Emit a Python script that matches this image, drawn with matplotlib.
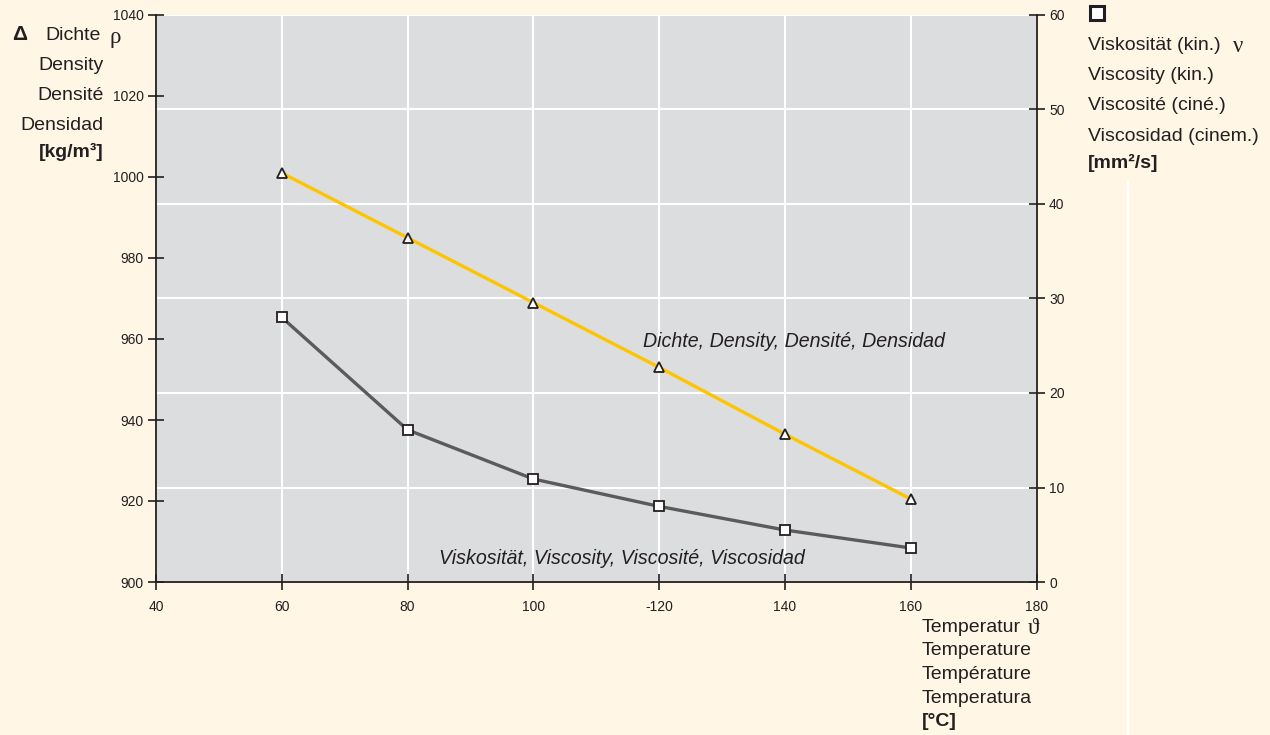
import numpy as np
import matplotlib
matplotlib.use("Agg")
import matplotlib.pyplot as plt
from matplotlib.lines import Line2D

# Werte
temperatur = [60, 80, 100, 120, 140, 160]
dichte = [1001, 985, 969, 953, 936.5, 920.5]
viskositaet = [28.0, 16.1, 10.9, 8.0, 5.5, 3.6]

x_ticks = [40, 60, 80, 100, 120, 140, 160, 180]
x_ticklabels = ["40", "60", "80", "100", "-120", "140", "160", "180"]
dichte_ticks = [900, 920, 940, 960, 980, 1000, 1020, 1040]
visk_ticks = [0, 10, 20, 30, 40, 50, 60]

links_texte = ["Density", "Densité", "Densidad"]
rechts_texte = ["Viskosität (kin.)", "Viscosity (kin.)", "Viscosité (ciné.)", "Viscosidad (cinem.)"]
unten_texte = ["Temperatur", "Temperature", "Température", "Temperatura"]

BG = "#FFF6E6"
AX_BG = "#DCDDDF"
TXT = "#231F20"
GELB = "#FFC400"
GRAU = "#5B5B5B"

plt.rcParams["font.family"] = ["Liberation Sans", "DejaVu Sans"]
plt.rcParams["text.color"] = TXT
SERIF = ["Liberation Serif", "DejaVu Serif"]

W, H = 1270, 735
fig = plt.figure(figsize=(W / 100, H / 100), dpi=100, facecolor=BG)


def px(x, y):
    return x / W, 1 - y / H


ax = fig.add_axes([156 / W, 1 - 582 / H, (1036.5 - 156) / W, (582 - 15) / H])
ax2 = ax.twinx()

# Hintergrund und Gitter auf ax2, Dichte-Kurve auf ax darüber
ax.set_zorder(2)
ax.patch.set_visible(False)
ax2.set_zorder(1)
ax2.patch.set_visible(True)
ax2.set_facecolor(AX_BG)

ax.set_xlim(40, 180)
ax.set_ylim(900, 1040)
ax2.set_ylim(0, 60)

ax.set_xticks(x_ticks)
ax.set_xticklabels(x_ticklabels)
ax.set_yticks(dichte_ticks)
ax2.set_yticks(visk_ticks)

for a in (ax, ax2):
    for s in a.spines.values():
        s.set_visible(False)
    a.tick_params(direction="inout", length=12, width=1.2, color=TXT,
                  labelsize=10, labelcolor=TXT, pad=3)
ax.spines["left"].set_visible(True)
ax.spines["bottom"].set_visible(True)
ax2.spines["right"].set_visible(True)
for s in (ax.spines["left"], ax.spines["bottom"], ax2.spines["right"]):
    s.set_color(TXT)
    s.set_linewidth(1.3)
ax.tick_params(axis="x", pad=7)

# Gitter (weiß)
ax2.xaxis.set_visible(True)
ax2.set_xticks(x_ticks)
ax2.tick_params(axis="x", length=0, labelbottom=False)
ax2.grid(True, color="white", linewidth=1.5)
ax2.set_axisbelow(True)

ax.plot(temperatur, dichte, color=GELB, linewidth=2.4, marker="^", markersize=7,
        markerfacecolor="white", markeredgecolor=TXT, markeredgewidth=1.3, zorder=3)
ax2.plot(temperatur, viskositaet, color=GRAU, linewidth=2.4, marker="s", markersize=7.5,
         markerfacecolor="white", markeredgecolor=TXT, markeredgewidth=1.3, zorder=3)

ax.text(117.4, 959.3, "Dichte, Density, Densité, Densidad", style="italic",
        fontsize=14.1, ha="left", va="center", color=TXT)
ax.text(85.0, 905.9, "Viskosität, Viscosity, Viscosité, Viscosidad", style="italic",
        fontsize=14.1, ha="left", va="center", color=TXT)

FS = 14
GR = 16.5
# linke Beschriftung
fig.text(*px(20, 35), "Δ", fontsize=15, fontweight="bold", ha="center", va="center")
fig.text(*px(101, 35), "Dichte", fontsize=FS, ha="right", va="center")
fig.text(*px(109, 38), "ρ", fontsize=GR, ha="left", va="center", family=SERIF)
for i, t in enumerate(links_texte):
    fig.text(*px(104, 66 + i * 29.5), t, fontsize=FS, ha="right", va="center")
fig.text(*px(104, 152), "[kg/m³]", fontsize=FS, fontweight="bold", ha="right", va="center")

# rechte Beschriftung
fig.add_artist(Line2D([1097 / W], [1 - 13 / H], marker="s", markersize=10,
                      markerfacecolor="white", markeredgecolor=TXT, markeredgewidth=2.2,
                      transform=fig.transFigure))
for i, t in enumerate(rechts_texte):
    fig.text(*px(1088, 45 + i * 30.5), t, fontsize=FS, ha="left", va="center")
fig.text(*px(1233, 46), "ν", fontsize=GR, ha="left", va="center", family=SERIF)
fig.text(*px(1088, 163), "[mm²/s]", fontsize=FS, fontweight="bold", ha="left", va="center")

# untere Beschriftung
for i, t in enumerate(unten_texte):
    fig.text(*px(922, 627 + i * 23.7), t, fontsize=FS, ha="left", va="center")
fig.text(*px(1028, 628), "ϑ", fontsize=GR, ha="left", va="center", family=SERIF)
fig.text(*px(922, 721), "[°C]", fontsize=FS, fontweight="bold", ha="left", va="center")

# dünne weiße Linie rechts
fig.add_artist(Line2D([1128 / W, 1128 / W], [1 - 182 / H, 0], color="white",
                      linewidth=1.5, transform=fig.transFigure))

fig.savefig("out.png", dpi=100, facecolor=BG)
